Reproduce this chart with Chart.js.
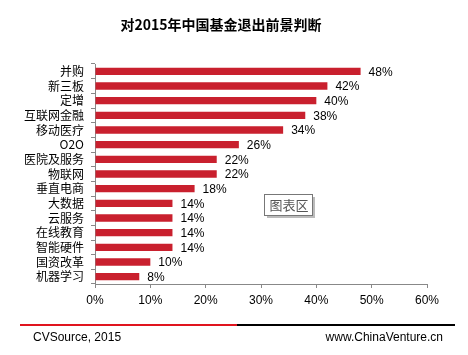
<!DOCTYPE html>
<html><head><meta charset="utf-8">
<script src="https://cdn.jsdelivr.net/npm/chart.js@4/dist/chart.umd.min.js"></script>
<style>html,body{margin:0;padding:0;background:#fff}#wrap{width:468px;height:355px;position:relative}</style>
</head><body><div id="wrap"><canvas id="c" width="468" height="355"></canvas></div>
<script>
const titleText = '对2015年中国基金退出前景判断';
const categories = ['并购','新三板','定增','互联网金融','移动医疗','O2O','医院及服务','物联网','垂直电商','大数据','云服务','在线教育','智能硬件','国资改革','机器学习'];
const values = [48,42,40,38,34,26,22,22,18,14,14,14,14,10,8];
const xTicks = [0,10,20,30,40,50,60];
const sourceText = 'CVSource, 2015';
const siteText = 'www.ChinaVenture.cn';
const popupText = '图表区';

const CJK = '"Noto Sans CJK SC", "Liberation Sans", sans-serif';
const BAR = '#C9202E';

const decor = {
  id: 'decor',
  afterDatasetsDraw(chart) {
    const ctx = chart.ctx;
    const meta = chart.getDatasetMeta(0);
    ctx.save();
    ctx.font = '12px "Liberation Sans", Arial, sans-serif';
    ctx.fillStyle = '#000';
    ctx.textBaseline = 'middle';
    ctx.textAlign = 'left';
    meta.data.forEach((bar, i) => {
      ctx.fillText(values[i] + '%', bar.x + 8, bar.y + 1);
    });
    ctx.restore();
  },
  afterDraw(chart) {
    const ctx = chart.ctx;
    ctx.save();
    // title
    ctx.font = 'bold 14px ' + CJK;
    ctx.fillStyle = '#000';
    ctx.textAlign = 'center';
    ctx.textBaseline = 'middle';
    ctx.fillText(titleText, 221, 25);
    // popup box
    const bx = 264, by = 194, bw = 48, bh = 21;
    ctx.fillStyle = '#bbb';
    ctx.fillRect(bx + 3, by + 3, bw, bh);
    ctx.fillStyle = '#fff';
    ctx.fillRect(bx, by, bw, bh);
    ctx.strokeStyle = '#777';
    ctx.lineWidth = 1;
    ctx.strokeRect(bx + 0.5, by + 0.5, bw, bh);
    ctx.fillStyle = '#555';
    ctx.font = '13px ' + CJK;
    ctx.fillText(popupText, bx + bw / 2 + 1, by + bh / 2 + 1);
    // footer lines
    ctx.fillStyle = '#E0141E';
    ctx.fillRect(20, 324, 217, 2);
    ctx.fillStyle = '#000';
    ctx.fillRect(237, 324, 218, 2);
    ctx.font = '12px "Liberation Sans", Arial, sans-serif';
    ctx.fillStyle = '#000';
    ctx.textAlign = 'left';
    ctx.textBaseline = 'alphabetic';
    ctx.fillText(sourceText, 33, 341);
    ctx.textAlign = 'right';
    ctx.fillText(siteText, 443, 341);
    ctx.restore();
  }
};

new Chart(document.getElementById('c'), {
  type: 'bar',
  data: {
    labels: categories,
    datasets: [{ data: values, backgroundColor: BAR, barPercentage: 0.5, categoryPercentage: 1.0 }]
  },
  options: {
    indexAxis: 'y',
    responsive: false,
    animation: false,
    devicePixelRatio: 1,
    layout: { padding: { left: 0, right: 41, top: 64, bottom: 41 } },
    plugins: { legend: { display: false }, tooltip: { enabled: false }, title: { display: false } },
    scales: {
      x: {
        min: 0, max: 60,
        afterBuildTicks(scale) { scale.ticks = xTicks.map(v => ({ value: v })); },
        afterFit(scale) { scale.height = 30; },
        grid: { display: true, drawOnChartArea: false, drawTicks: true, tickLength: 4, color: '#888' },
        border: { display: true, color: '#888', width: 1 },
        ticks: { padding: 5, color: '#000', font: { family: '"Liberation Sans", Arial, sans-serif', size: 12 }, callback: v => v + '%', maxRotation: 0 }
      },
      y: {
        afterFit(scale) { scale.width = 95; },
        grid: { display: true, drawOnChartArea: false, drawTicks: true, tickLength: 4, color: '#888', offset: true },
        border: { display: true, color: '#888', width: 1 },
        ticks: { padding: 7, color: '#000', font: { family: CJK, size: 12 }, autoSkip: false }
      }
    }
  },
  plugins: [decor]
});
</script></body></html>
